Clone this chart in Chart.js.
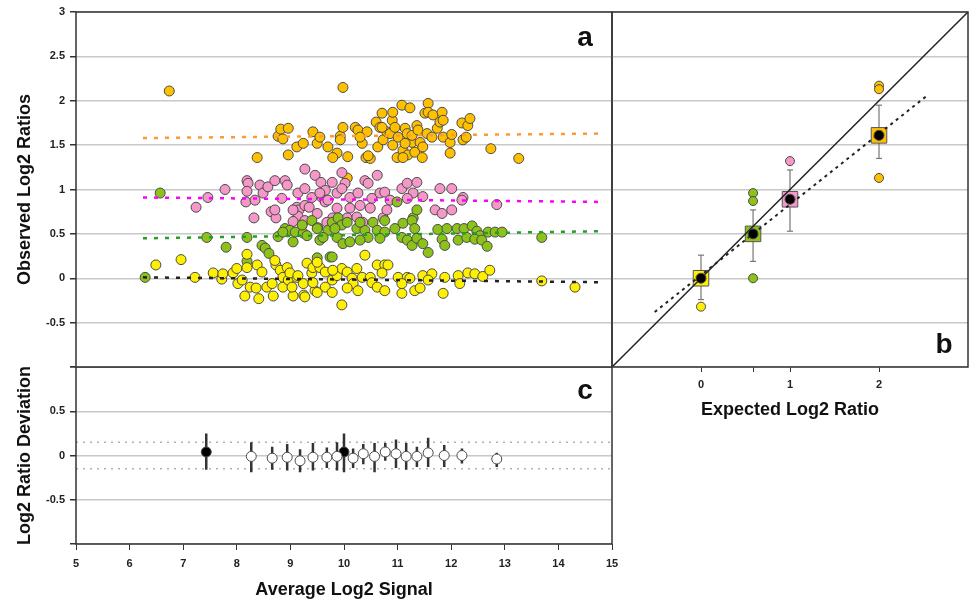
<!DOCTYPE html>
<html>
<head>
<meta charset="utf-8">
<script src="https://cdn.jsdelivr.net/npm/chart.js@4.4.0/dist/chart.umd.min.js"></script>
<style>
body { margin: 0; background: #fff; width: 970px; height: 606px; position: relative; overflow: hidden; }
canvas { position: absolute; }
#chartA { left: 0; top: 0; }
#chartB { left: 610px; top: 0; }
#chartC { left: 0; top: 360px; }
</style>
</head>
<body>
<canvas id="chartA" width="614" height="369"></canvas>
<canvas id="chartC" width="624" height="246"></canvas>
<canvas id="chartB" width="360" height="430"></canvas>
<script>
// panel a : observed log2 ratios against average log2 signal
const orangeX = [6.74, 9.98, 8.38, 8.77, 8.82, 8.86, 8.96, 9.12, 9.24, 9.42, 9.50, 9.55, 9.70, 9.87, 9.93, 9.98, 10.07, 10.21, 10.26, 10.34, 10.41, 10.43, 10.49, 10.60, 10.63, 10.67, 10.71, 10.73, 10.80, 10.86, 10.90, 10.91, 10.91, 10.99, 11.01, 11.08, 11.10, 11.14, 11.18, 11.19, 11.23, 11.27, 11.27, 11.32, 11.36, 11.38, 11.42, 11.46, 11.47, 11.51, 11.55, 11.57, 11.57, 11.64, 11.66, 11.74, 11.79, 11.83, 11.85, 11.98, 11.98, 12.01, 12.20, 12.22, 12.28, 12.31, 12.35, 12.74, 13.26, 8.96, 9.79, 10.45, 10.71, 10.95, 11.10, 11.85, 11.14, 10.30, 9.93, 10.06];
const orangeY = [2.11, 2.15, 1.36, 1.60, 1.68, 1.57, 1.39, 1.48, 1.52, 1.65, 1.52, 1.59, 1.48, 1.41, 1.60, 1.70, 1.37, 1.70, 1.67, 1.52, 1.36, 1.65, 1.35, 1.76, 1.48, 1.70, 1.86, 1.56, 1.65, 1.63, 1.78, 1.87, 1.50, 1.36, 1.59, 1.95, 1.44, 1.69, 1.63, 1.39, 1.92, 1.53, 1.61, 1.42, 1.72, 1.67, 1.53, 1.36, 1.48, 1.86, 1.63, 1.97, 1.87, 1.59, 1.84, 1.69, 1.76, 1.87, 1.59, 1.53, 1.41, 1.62, 1.75, 1.56, 1.59, 1.72, 1.80, 1.46, 1.35, 1.69, 1.36, 1.38, 1.70, 1.70, 1.36, 1.78, 1.52, 1.59, 1.56, 1.13];

const pinkX = [7.24, 7.46, 7.78, 8.19, 8.21, 8.19, 8.17, 8.34, 8.43, 8.49, 8.58, 8.32, 8.64, 8.73, 8.71, 8.90, 8.94, 8.84, 9.14, 9.27, 9.27, 9.46, 9.57, 9.59, 9.12, 9.16, 9.27, 9.35, 9.14, 9.05, 9.27, 9.65, 9.65, 9.78, 9.96, 10.02, 9.40, 9.55, 9.70, 9.87, 9.96, 10.11, 10.26, 10.39, 10.45, 10.62, 10.52, 10.67, 10.76, 10.86, 11.08, 11.18, 11.36, 11.29, 11.18, 10.11, 10.30, 10.49, 9.87, 9.50, 10.06, 10.24, 9.79, 9.68, 10.35, 10.73, 10.80, 11.47, 11.79, 12.01, 12.22, 12.20, 12.85, 11.70, 11.83, 12.01, 8.71, 9.05];
const pinkY = [0.80, 0.91, 1.00, 1.10, 1.07, 0.98, 0.86, 0.88, 1.05, 0.96, 1.03, 0.68, 0.75, 0.68, 1.10, 1.10, 1.05, 0.90, 0.96, 1.01, 1.23, 1.16, 1.08, 0.91, 0.80, 0.77, 0.82, 0.80, 0.70, 0.64, 0.65, 0.99, 0.86, 1.08, 1.19, 1.07, 0.91, 0.96, 0.88, 0.96, 1.01, 0.91, 0.96, 1.10, 1.07, 1.16, 0.90, 0.96, 0.97, 0.88, 1.01, 1.07, 1.08, 0.96, 0.90, 0.79, 0.82, 0.79, 0.79, 0.73, 0.68, 0.69, 0.68, 0.63, 0.63, 0.68, 0.77, 0.92, 1.01, 1.01, 0.91, 0.88, 0.83, 0.77, 0.73, 0.77, 0.77, 0.77];

const greenX = [6.57, 6.29, 7.44, 7.80, 8.19, 8.47, 8.53, 8.60, 8.19, 8.77, 8.90, 8.99, 9.09, 9.05, 9.24, 9.31, 9.40, 9.22, 9.51, 9.55, 9.70, 9.50, 9.74, 9.78, 9.89, 9.96, 9.87, 9.98, 10.11, 9.61, 10.24, 10.39, 10.54, 10.76, 10.62, 10.76, 10.95, 11.10, 11.29, 10.99, 11.36, 11.08, 11.18, 11.27, 11.36, 10.45, 10.30, 10.67, 9.78, 10.30, 10.06, 9.83, 11.27, 11.32, 11.47, 11.57, 11.75, 11.92, 12.11, 12.24, 12.39, 12.48, 12.54, 12.69, 12.82, 12.95, 11.83, 11.88, 12.13, 12.29, 12.44, 12.57, 12.67, 13.69, 8.86, 9.50];
const greenY = [0.96, 0.01, 0.46, 0.35, 0.46, 0.37, 0.34, 0.28, 0.19, 0.47, 0.56, 0.54, 0.52, 0.41, 0.51, 0.48, 0.65, 0.60, 0.57, 0.43, 0.54, 0.23, 0.24, 0.63, 0.68, 0.60, 0.46, 0.39, 0.41, 0.46, 0.56, 0.54, 0.63, 0.65, 0.54, 0.52, 0.56, 0.62, 0.68, 0.86, 0.77, 0.46, 0.43, 0.37, 0.45, 0.46, 0.43, 0.45, 0.24, 0.63, 0.63, 0.56, 0.65, 0.56, 0.39, 0.29, 0.55, 0.56, 0.56, 0.56, 0.59, 0.53, 0.48, 0.52, 0.52, 0.52, 0.44, 0.37, 0.43, 0.46, 0.44, 0.43, 0.36, 0.46, 0.52, 0.56];

const yellowX = [6.49, 6.96, 7.22, 7.56, 7.72, 7.74, 7.93, 8.00, 8.02, 8.10, 8.15, 8.19, 8.19, 8.25, 8.36, 8.38, 8.41, 8.47, 8.56, 8.66, 8.68, 8.73, 8.81, 8.86, 8.86, 8.94, 8.96, 9.05, 9.12, 9.24, 9.25, 9.31, 9.40, 9.42, 9.46, 9.55, 9.65, 8.71, 8.99, 9.03, 9.14, 9.50, 9.42, 9.65, 9.78, 9.78, 9.50, 9.87, 9.96, 10.06, 10.15, 10.24, 10.17, 10.06, 10.26, 10.39, 10.34, 10.49, 10.62, 10.76, 10.71, 10.52, 10.62, 10.76, 11.01, 11.18, 11.08, 11.32, 9.96, 11.47, 11.64, 11.57, 11.88, 12.13, 12.16, 12.31, 12.44, 12.59, 12.72, 11.42, 11.85, 13.69, 14.31, 11.23, 10.82, 9.79, 9.27, 11.08];
const yellowY = [0.15, 0.21, 0.01, 0.06, -0.01, 0.05, 0.06, 0.11, -0.06, -0.02, -0.20, 0.27, 0.12, -0.10, -0.11, 0.15, -0.23, 0.07, -0.10, -0.06, -0.20, 0.15, 0.09, 0.01, -0.10, 0.12, -0.02, -0.20, 0.01, -0.06, -0.19, 0.17, 0.06, 0.12, -0.14, 0.12, -0.10, 0.20, 0.06, -0.10, 0.03, 0.18, -0.05, 0.07, -0.02, -0.16, -0.16, 0.03, 0.11, 0.07, 0.00, 0.11, -0.06, -0.11, -0.14, 0.26, 0.01, 0.01, 0.15, 0.15, 0.06, -0.05, -0.10, -0.14, 0.01, 0.01, -0.17, -0.14, -0.30, 0.03, 0.05, -0.02, 0.01, 0.03, -0.06, 0.06, 0.05, 0.02, 0.09, -0.11, -0.17, -0.03, -0.10, 0.00, 0.15, 0.09, -0.21, -0.06];

// dotted trend lines of panel a
const trendX = [6.25, 14.8];
const orangeFit = [1.58, 1.63];
const pinkFit = [0.91, 0.86];
const greenFit = [0.45, 0.53];
const yellowFit = [0.01, -0.045];

// panel b : observed against expected ratio
const expTicks = [0, 0.585, 1, 2];
const expLabels = ['0', '', '1', '2'];
const expX = [0, 0.585, 1, 2];
const meanY = [0, 0.5, 0.89, 1.61];
const errHi = [0.26, 0.77, 1.22, 1.95];
const errLo = [-0.24, 0.19, 0.53, 1.35];
const outYellowY = [-0.32];
const outGreenY = [0.96, 0.87, 0.0];
const outPinkY = [1.32];
const outOrangeY = [2.17, 2.13, 1.13];
const identityX = [-1, 3];
const fitX = [-0.52, 2.53];
const fitY = [-0.38, 2.05];

// panel c : deviation against signal
const devX = [8.27, 8.66, 8.94, 9.18, 9.42, 9.68, 9.87, 10.17, 10.36, 10.57, 10.77, 10.97, 11.16, 11.36, 11.57, 11.87, 12.2, 12.85];
const devY = [-0.01, -0.03, -0.02, -0.06, -0.02, -0.02, -0.01, -0.03, 0.02, -0.01, 0.04, 0.02, -0.01, -0.01, 0.03, 0.0, 0.0, -0.04];
const devHi = [0.15, 0.10, 0.13, 0.07, 0.14, 0.09, 0.15, 0.08, 0.13, 0.14, 0.14, 0.18, 0.14, 0.10, 0.20, 0.12, 0.08, 0.03];
const devLo = [-0.19, -0.16, -0.17, -0.19, -0.17, -0.14, -0.17, -0.14, -0.10, -0.19, -0.06, -0.14, -0.16, -0.13, -0.13, -0.13, -0.09, -0.13];
const ctrlX = [7.43, 10.0];
const ctrlY = [0.04, 0.04];
const ctrlHi = [0.25, 0.25];
const ctrlLo = [-0.16, -0.19];
const limitX = [5, 15];
const limit = 0.15;

const YELLOW = '#FFF000', GREEN = '#8CC21A', PINK = '#F598C8', ORANGE = '#FFC000';

Chart.defaults.font.family = '"Liberation Sans", Arial, sans-serif';
Chart.defaults.color = '#222';

function pts(xs, ys) {
    return xs.map((x, i) => ({ x: x, y: ys[i] }));
}

// error bars : two points per bar, a null point to break the line
function bars(xs, lo, hi) {
    const out = [];
    xs.forEach((x, i) => {
        out.push({ x: x, y: lo[i] }, { x: x, y: hi[i] }, { x: x, y: null });
    });
    return out;
}

function dots(data, fill, r) {
    return { data: data, backgroundColor: fill, borderColor: '#4a4a4a', borderWidth: 1, pointRadius: r, showLine: false };
}

function dotted(data, color, width, dash) {
    return { data: data, showLine: true, borderColor: color, borderWidth: width, borderDash: dash, pointRadius: 0, fill: false };
}

// fixed axis sizes, no extra padding for the end labels
function fixSize(w, h) {
    return function (s) {
        if (w !== null) s.width = w;
        if (h !== null) s.height = h;
        s.paddingLeft = 0;
        s.paddingRight = 0;
        s.paddingTop = 0;
        s.paddingBottom = 0;
    };
}

// cadre du panneau + lettre
function frame(letter, dx, dy, fromTop) {
    return {
        id: 'frame' + letter,
        afterDraw(chart) {
            const ctx = chart.ctx, a = chart.chartArea;
            ctx.save();
            ctx.strokeStyle = '#333';
            ctx.lineWidth = 1.5;
            ctx.strokeRect(a.left, a.top, a.right - a.left, a.bottom - a.top);
            ctx.font = 'bold 28px "Liberation Sans", Arial, sans-serif';
            ctx.fillStyle = '#111';
            ctx.textAlign = 'center';
            ctx.textBaseline = 'middle';
            ctx.fillText(letter, a.right - dx, fromTop ? a.top + dy : a.bottom - dy);
            ctx.restore();
        }
    };
}

const tickFont = { weight: 'bold', size: 11 };
const titleFont = { weight: 'bold', size: 18 };

// panel a
new Chart(document.getElementById('chartA'), {
    type: 'scatter',
    data: {
        datasets: [
            dotted(pts(trendX, yellowFit), '#222', 2.5, [4, 7]),
            dotted(pts(trendX, greenFit), '#22A022', 2.5, [4, 7]),
            dotted(pts(trendX, pinkFit), '#FF00FF', 2.5, [4, 7]),
            dotted(pts(trendX, orangeFit), '#FF9A30', 2.5, [4, 7]),
            dots(pts(yellowX, yellowY), YELLOW, 5),
            dots(pts(greenX, greenY), GREEN, 5),
            dots(pts(pinkX, pinkY), PINK, 5),
            dots(pts(orangeX, orangeY), ORANGE, 5)
        ]
    },
    options: {
        responsive: false,
        animation: false,
        layout: { autoPadding: false, padding: { top: 12, right: 2, bottom: 2, left: 0 } },
        plugins: { legend: { display: false }, tooltip: { enabled: false } },
        scales: {
            x: { type: 'linear', min: 5, max: 15, display: false },
            y: {
                min: -1, max: 3,
                afterFit: fixSize(76, null),
                ticks: { stepSize: 0.5, padding: 5, font: tickFont, callback: v => (v === -1 ? '' : v) },
                grid: { color: '#c8c8c8', lineWidth: 1.5, tickLength: 6, tickColor: '#333' },
                border: { display: false },
                title: { display: true, text: 'Observed Log2 Ratios', font: titleFont, color: '#111', padding: { top: 14 } }
            }
        }
    },
    plugins: [frame('a', 27, 26, true)]
});

// panel b
new Chart(document.getElementById('chartB'), {
    type: 'scatter',
    data: {
        datasets: [
            dots(pts(expX, meanY), '#000', 5),
            dotted(pts(fitX, fitY), '#222', 2, [3, 4]),
            { data: pts(identityX, identityX), showLine: true, borderColor: '#222', borderWidth: 1.5, pointRadius: 0 },
            { data: pts(expX, meanY), backgroundColor: [YELLOW, GREEN, PINK, ORANGE], borderColor: '#555', borderWidth: 1, pointStyle: 'rect', pointRadius: 11 },
            dots(pts([0], outYellowY), YELLOW, 4.5),
            dots(pts([0.585, 0.585, 0.585], outGreenY), GREEN, 4.5),
            dots(pts([1], outPinkY), PINK, 4.5),
            dots(pts([2, 2, 2], outOrangeY), ORANGE, 4.5),
            { data: bars(expX, errLo, errHi), showLine: true, spanGaps: false, borderColor: '#777', borderWidth: 1.2, pointStyle: 'line', pointRadius: 3, pointBorderColor: '#777', pointBorderWidth: 1.2 }
        ]
    },
    options: {
        responsive: false,
        animation: false,
        layout: { autoPadding: false, padding: { top: 12, right: 2, bottom: 0, left: 2 } },
        plugins: { legend: { display: false }, tooltip: { enabled: false } },
        scales: {
            x: {
                type: 'linear', min: -1, max: 3,
                afterBuildTicks(s) { s.ticks = expTicks.map(v => ({ value: v })); },
                afterFit: fixSize(null, 63),
                ticks: { autoSkip: false, maxRotation: 0, padding: 6, font: tickFont, callback: (v, i) => expLabels[i] },
                grid: { drawOnChartArea: false, tickLength: 5, tickColor: '#333' },
                border: { display: false },
                title: { display: true, text: 'Expected Log2 Ratio', font: titleFont, color: '#111', padding: { bottom: 9 } }
            },
            y: {
                min: -1, max: 3,
                afterFit: fixSize(0, null),
                ticks: { display: false, stepSize: 0.5 },
                grid: { color: '#c8c8c8', lineWidth: 1.5, drawTicks: false },
                border: { display: false }
            }
        }
    },
    plugins: [frame('b', 24, 22, false)]
});

// panel c
new Chart(document.getElementById('chartC'), {
    type: 'scatter',
    data: {
        datasets: [
            dots(pts(devX, devY), '#fff', 5),
            dots(pts(ctrlX, ctrlY), '#000', 5),
            { data: bars(devX.concat(ctrlX), devLo.concat(ctrlLo), devHi.concat(ctrlHi)), showLine: true, spanGaps: false, borderColor: '#333', borderWidth: 2.5, pointRadius: 0 },
            dotted(pts(limitX, [limit, limit]), '#b0b0b0', 1.5, [2, 5]),
            dotted(pts(limitX, [-limit, -limit]), '#b0b0b0', 1.5, [2, 5])
        ]
    },
    options: {
        responsive: false,
        animation: false,
        layout: { autoPadding: false, padding: { top: 7, right: 12, bottom: 0, left: 0 } },
        plugins: { legend: { display: false }, tooltip: { enabled: false } },
        scales: {
            x: {
                type: 'linear', min: 5, max: 15,
                afterFit: fixSize(null, 62),
                ticks: { stepSize: 1, padding: 7, maxRotation: 0, font: tickFont },
                grid: { drawOnChartArea: false, tickLength: 6, tickColor: '#333' },
                border: { display: false },
                title: { display: true, text: 'Average Log2 Signal', font: titleFont, color: '#111', padding: { bottom: 5 } }
            },
            y: {
                min: -1, max: 1,
                afterFit: fixSize(76, null),
                ticks: { stepSize: 0.5, padding: 5, font: tickFont, callback: v => (Math.abs(v) === 1 ? '' : v) },
                grid: { color: '#c8c8c8', lineWidth: 1.5, tickLength: 6, tickColor: '#333' },
                border: { display: false },
                title: { display: true, text: 'Log2 Ratio Deviation', font: titleFont, color: '#111', padding: { top: 14 } }
            }
        }
    },
    plugins: [frame('c', 27, 24, true)]
});
</script>
</body>
</html>
